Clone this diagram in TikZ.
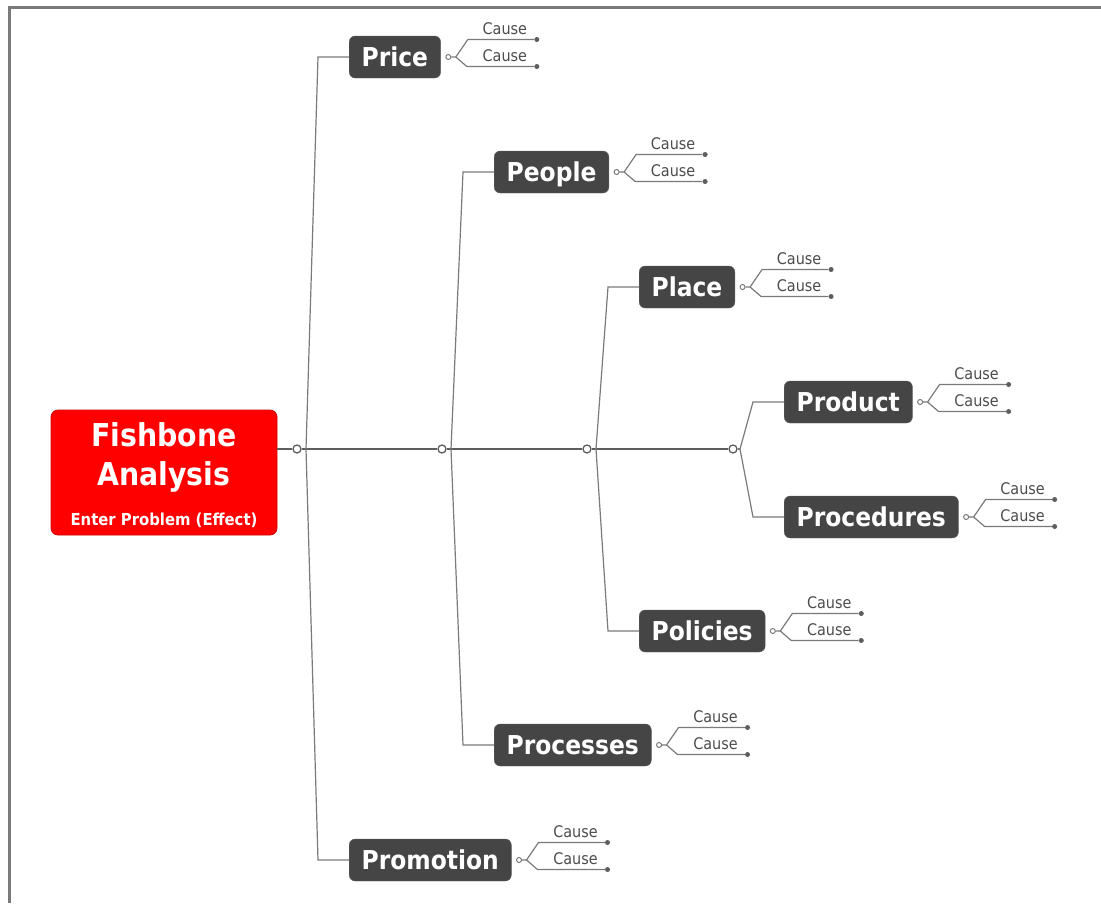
\documentclass[tikz,border=0pt]{standalone}
\usepackage{fontspec}
\setmainfont{DejaVu Sans}
\newfontfamily\bonefont{DejaVu Sans Condensed}
\usetikzlibrary{positioning,calc}
\definecolor{bonegray}{HTML}{454545}
\definecolor{linegray}{HTML}{7A7A7A}
\definecolor{spinegray}{HTML}{5E5E5E}
\tikzset{dhead/.style={rounded corners=7pt, fill=red, draw=red!80!black, line width=0.8pt, text=white, align=center, inner sep=0pt, minimum width=226pt, minimum height=125pt, font=\bonefont\bfseries\fontsize{31.5}{38.5}\selectfont}}
\tikzset{dbone/.style={rounded corners=6pt, fill=bonegray, draw=bonegray!85!white, text=white, anchor=west, inner xsep=12.5pt, minimum height=42pt, text height=19pt, text depth=0pt, font=\bonefont\bfseries\fontsize{26}{30}\selectfont}}
\tikzset{dknot/.style={circle, draw=linegray, fill=white, line width=1pt, inner sep=0pt, minimum size=5pt}}
\tikzset{dknot2/.style={circle, draw=spinegray, fill=white, line width=1.3pt, inner sep=0pt, minimum size=8pt}}
\tikzset{ddot/.style={circle, fill=spinegray, inner sep=0pt, minimum size=5pt}}
\tikzset{dline/.style={draw=linegray, line width=1.2pt}}
\tikzset{dcause/.style={anchor=base, inner sep=0pt, text=black!70, font=\bonefont\fontsize{16}{18}\selectfont}}
\tikzset{dspine/.style={draw=spinegray}}

\begin{document}
\begin{tikzpicture}[x=1pt, y=-1pt]
	\useasboundingbox (0,0) rectangle (1101,903);
	\draw[linegray, line width=3pt] (9.5,903) -- (9.5,7.5) -- (1101,7.5);
	%
	\node[dhead] (FA) at (164,472.5) {\rule{0pt}{30pt}Fishbone\\Analysis\\[2pt]{\fontsize{16.5}{18}\selectfont Enter Problem (Effect)}};
	%
	\node[dbone] (Price) at (349,57) {Price};
	\node[dbone] (People) at (494,172) {People};
	\node[dbone] (Place) at (639,287) {Place};
	\node[dbone] (Product) at (784,402) {Product};
	\node[dbone] (Procedures) at (784,517) {Procedures};
	\node[dbone] (Policies) at (639,631) {Policies};
	\node[dbone] (Processes) at (494,745) {Processes};
	\node[dbone] (Promotion) at (349,860) {Promotion};
	%
	\node[dknot2] (J1) at (297,449) {};
	\node[dknot2] (J2) at (442,449) {};
	\node[dknot2] (J3) at (587,449) {};
	\node[dknot2] (J4) at (733,449) {};
	\coordinate (b1) at ([xshift=9pt]J1.center);
	\coordinate (b2) at ([xshift=9pt]J2.center);
	\coordinate (b3) at ([xshift=9pt]J3.center);
	\coordinate (b4) at ([xshift=7pt]J4.center);
	%
	\draw[dspine, line width=2.6pt] (FA.east |- J1) -- (J1);
	\draw[dspine, line width=2.4pt] (J1) -- (J2);
	\draw[dspine, line width=2pt] (J2) -- (J3);
	\draw[dspine, line width=1.6pt] (J3) -- (J4);
	\draw[dline] (J4) -- (b4);
	%
	\draw[dline] (Price.west) -- ++(-31,0) -- (b1) -- ($(Promotion.west)+(-31,0)$) -- (Promotion.west);
	\draw[dline] (People.west) -- ++(-31,0) -- (b2) -- ($(Processes.west)+(-31,0)$) -- (Processes.west);
	\draw[dline] (Place.west) -- ++(-31,0) -- (b3) -- ($(Policies.west)+(-31,0)$) -- (Policies.west);
	\draw[dline] (Product.west) -- ++(-31,0) -- (b4) -- ($(Procedures.west)+(-31,0)$) -- (Procedures.west);
	%
	\foreach \n in {Price,People,Place,Product,Procedures,Policies,Processes,Promotion}{
		\node[dknot] (\n-o) at ([xshift=7.5pt]\n.east) {};
		\coordinate (\n-f) at ([xshift=15pt]\n.east);
		\coordinate (\n-u) at ([xshift=27pt,yshift=17.5pt]\n.east);
		\coordinate (\n-l) at ([xshift=26pt,yshift=-9.5pt]\n.east);
		\node[ddot] (\n-d1) at ([xshift=96pt,yshift=17.5pt]\n.east) {};
		\node[ddot] (\n-d2) at ([xshift=96pt,yshift=-9.5pt]\n.east) {};
		\draw[dline] (\n-o) -- (\n-f) -- (\n-u) -- (\n-d1);
		\draw[dline] (\n-f) -- (\n-l) -- (\n-d2);
		\node[dcause] (\n-c1) at ([xshift=64pt,yshift=23pt]\n.east) {Cause};
		\node[dcause] (\n-c2) at ([xshift=64pt,yshift=-4pt]\n.east) {Cause};
	}
\end{tikzpicture}
\end{document}
